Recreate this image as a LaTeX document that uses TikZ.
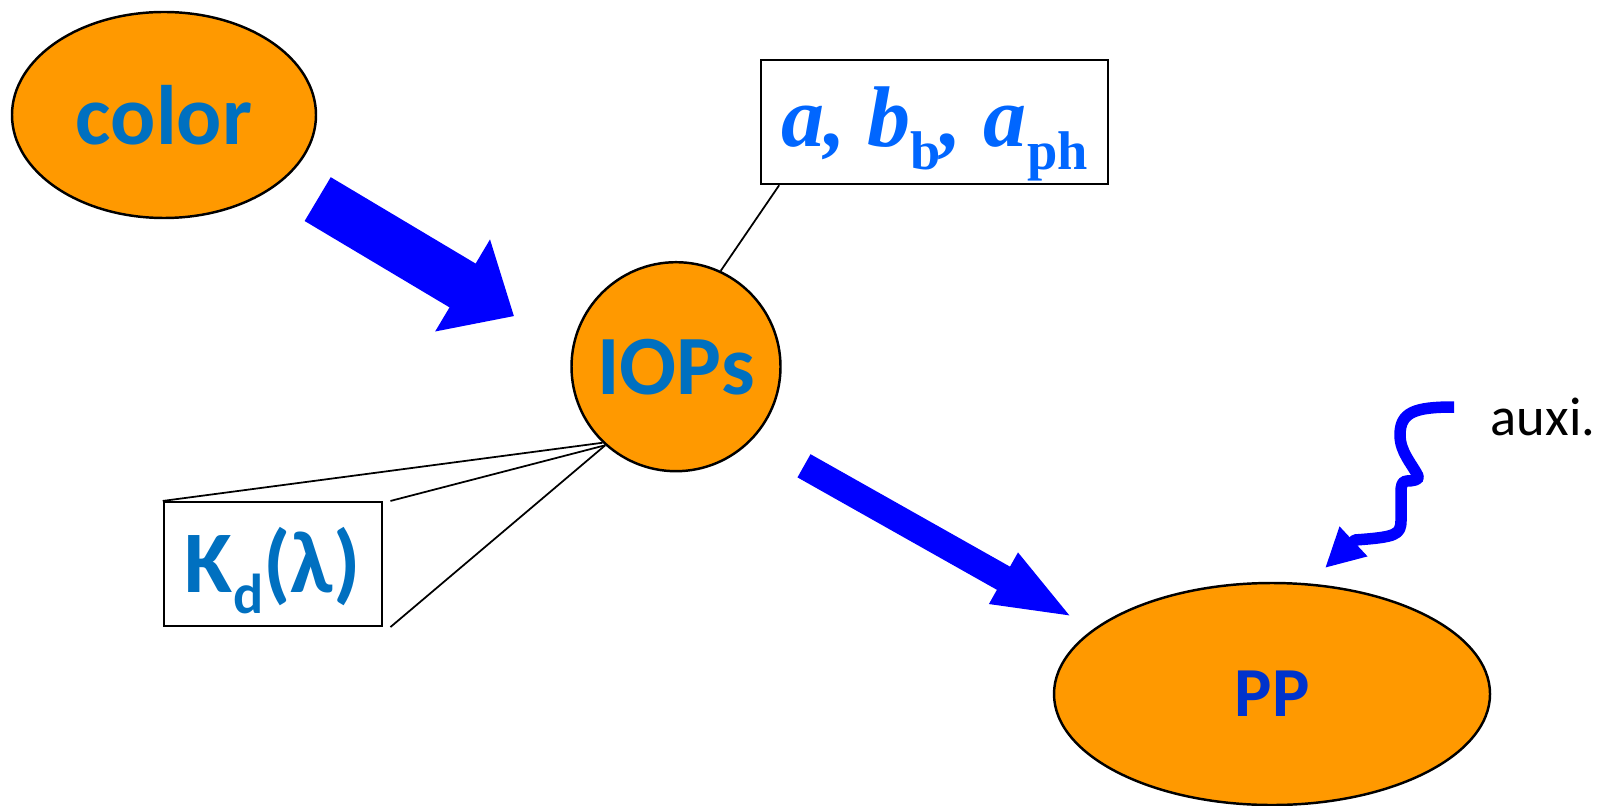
\documentclass[tikz,border=0pt]{standalone}
\usepackage{fontspec}
\setmainfont{Carlito}
\newfontfamily\serifab{Liberation Serif}
\usepackage{xcolor}
\usepackage{tikz}
\usetikzlibrary{arrows.meta}
\usetikzlibrary{shapes.geometric}
\usetikzlibrary{positioning}
\definecolor{laranja}{HTML}{FF9900}
\definecolor{azultexto}{HTML}{0070C0}
\definecolor{azulpp}{HTML}{0033CC}
\definecolor{azulsimb}{HTML}{0066FF}
\definecolor{azulseta}{HTML}{0000FF}
\newcommand{\idxab}[1]{\raisebox{-6.5pt}{\upshape\fontsize{15.5}{15}\selectfont #1}}
\newcommand{\idxkd}[1]{\raisebox{-0.21cm}{\fontsize{16}{16}\selectfont #1}}
\tikzset{
  bolha/.style={draw, line width=0.7pt, fill=laranja, ellipse, inner sep=0pt, text=azultexto, font=\fontsize{24}{28}\selectfont\bfseries},
  quadro/.style={draw, line width=0.6pt, fill=white, inner sep=0pt, minimum width=#1, minimum height=1.24cm, text depth=0pt},
  quadro/.default=2.18cm,
  fio/.style={line width=0.5pt},
  setagrossa/.style={draw=azulseta, line width=#1},
}

\begin{document}
\begin{tikzpicture}
  \useasboundingbox (0,0) rectangle (16.06,-8.06);

  % elipses e circulo
  \node[bolha, minimum width=3.04cm, minimum height=2.06cm] (color) at (1.64,-1.15) {color};
  \node[bolha, circle, minimum size=2.09cm] (iops) at (6.76,-3.667) {IOPs};
  \node[bolha, minimum width=4.36cm, minimum height=2.22cm, text=azulpp, font=\fontsize{20}{24}\selectfont\bfseries] (pp) at (12.72,-6.94) {PP};

  % quadros
  \node[quadro=3.476cm, text height=13.9pt, text=azulsimb, font=\serifab\fontsize{24.5}{28}\selectfont\bfseries\itshape] (ab) at (9.345,-1.222) {a, b\idxab{b}, a\idxab{ph}};
  \node[quadro, text height=16.4pt, text=azultexto, font=\fontsize{25}{28}\selectfont\bfseries] (kd) at (2.728,-5.64) {K\idxkd{d}(λ)};
  \draw[fio] ([xshift=0.195cm]ab.south west) -- (iops.65);
  \draw[fio] (kd.north west) -- (iops.226);
  \draw[fio] ([xshift=0.076cm]kd.north east) -- (iops.228);
  \draw[fio] ([xshift=0.076cm]kd.south east) -- (iops.228);

  % setas
  \coordinate (a1s) at (3.177,-1.991);
  \coordinate (a1e) at (5.141,-3.162);
  \coordinate (a2s) at (8.04,-4.658);
  \coordinate (a2e) at (10.74,-6.18);
  \draw[setagrossa=0.51cm, -{Triangle[width=1.033cm,length=0.60cm]}] (a1s) -- (a1e);
  \draw[setagrossa=0.266cm, -{Triangle[width=0.52cm,length=0.81cm]}] (a2s) -- (a2e);

  % auxi.
  \node[anchor=base west, inner sep=0pt, font=\fontsize{15.5}{18}\selectfont] (auxi) at (14.90,-4.35) {auxi.};
  \coordinate (sq0) at (14.54,-4.07);
  \coordinate (sq1) at (13.25,-5.68);
  \draw[setagrossa=0.115cm, line join=round, -{Triangle[width=0.38cm,length=0.39cm]}]
    (sq0) .. controls (14.15,-4.07) and (14.00,-4.12) .. (14.00,-4.35)
    .. controls (14.00,-4.52) and (14.12,-4.64) .. (14.18,-4.76)
    .. controls (14.20,-4.80) and (14.12,-4.81) .. (14.07,-4.81)
    .. controls (14.02,-4.81) and (14.01,-4.85) .. (14.01,-4.93)
    -- (14.01,-5.20)
    .. controls (14.01,-5.35) and (13.96,-5.37) .. (13.55,-5.40)
    -- (sq1);
\end{tikzpicture}
\end{document}
